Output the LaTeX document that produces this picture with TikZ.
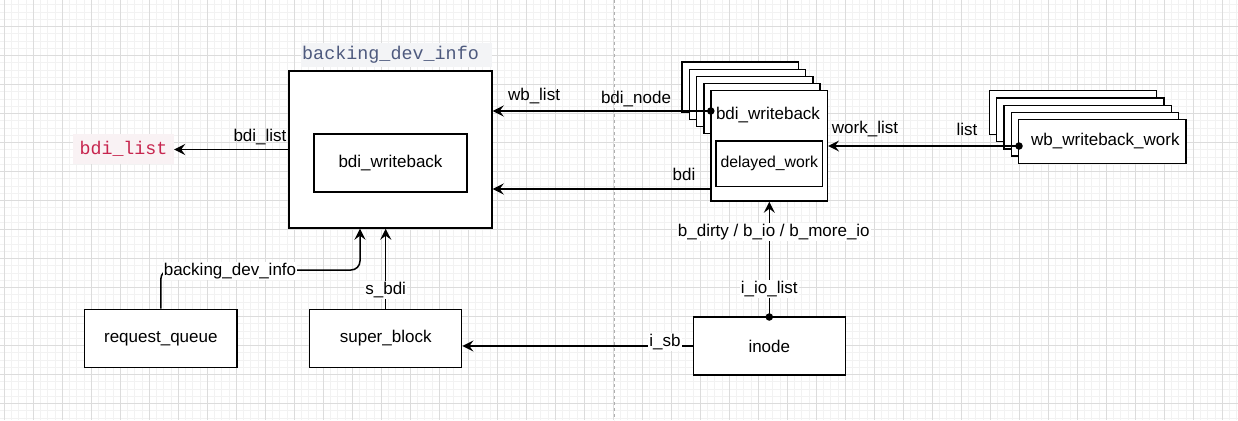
\documentclass[tikz,border=0pt]{standalone}
\usepackage{fontspec}
\setmainfont{Liberation Sans}
\setmonofont{Liberation Mono}
\usetikzlibrary{arrows.meta,calc}
\definecolor{minorg}{HTML}{F2F2F2}
\definecolor{majorg}{HTML}{DCDCDC}
\definecolor{sepg}{HTML}{AFAFAF}
\definecolor{titlebg}{HTML}{F3F4F6}
\definecolor{titlefg}{HTML}{4E5A7E}
\definecolor{codebg}{HTML}{F9F2F4}
\definecolor{codefg}{HTML}{C7254E}
\begin{document}
\begin{tikzpicture}[x=1pt,y=-1pt,
  box/.style={draw=black, line width=1.4pt, fill=white, inner sep=0pt, font=\fontsize{17}{20}\selectfont},
  arr/.style={line width=1.5pt, -{Stealth[length=11pt,width=11pt,inset=4pt]}},
  lbl/.style={font=\fontsize{17}{20}\selectfont, inner sep=1pt},
  wlbl/.style={lbl, fill=white},
  dot/.style={circle, fill=black, inner sep=0pt, minimum size=7.5pt}]
\useasboundingbox (0,0) rectangle (1238,420);
\fill[white] (0,0) rectangle (1238,420);
% grid
\foreach \i in {0,...,170} \draw[minorg, line width=0.8pt] ({4.3+7.25*\i},0) -- ({4.3+7.25*\i},420);
\foreach \j in {1,...,58} \draw[minorg, line width=0.8pt] (0,{-2.5+7.25*\j}) -- (1238,{-2.5+7.25*\j});
\foreach \i in {0,...,42} \draw[majorg, line width=0.8pt] ({4.3+29*\i},0) -- ({4.3+29*\i},420);
\foreach \j in {1,...,14} \draw[majorg, line width=0.8pt] (0,{-2.5+29*\j}) -- (1238,{-2.5+29*\j});
% separator
\draw[sepg, line width=1pt, dash pattern=on 3pt off 3pt] (614,0) -- (614,420);

% backing_dev_info
\node[anchor=west, fill=titlebg, minimum height=24pt, text width=189pt, inner xsep=1pt, inner ysep=0pt,
      font=\ttfamily\fontsize{18.4}{20}\selectfont, text=titlefg, align=left] (title) at (301,55) {backing\_dev\_info};
\node[box, minimum width=203pt, minimum height=157pt] (bdi) at (390.5,149.5) {};
\node[box, minimum width=153pt, minimum height=58pt] (bdiwb) at (390.5,163) {bdi\_writeback};
\node[fill=codebg, minimum width=101pt, minimum height=30pt, inner sep=0pt,
      font=\ttfamily\fontsize{18.3}{20}\selectfont, text=codefg] (bdilist) at (123.5,149) {bdi\_list};

% bdi_writeback stack
\foreach \k in {0,1,2,3}
  \node[box, minimum width=116.3pt, minimum height=50pt] (bwback\k) at ({740.2+7.25*\k},{87+7.25*\k}) {};
\node[box, minimum width=116.3pt, minimum height=110.3pt] (bw) at (769.2,145.9) {};
\node[lbl] (bwtext) at (768,115.5) {bdi\_writeback};
\node[box, minimum width=106.7pt, minimum height=45.7pt, font=\fontsize{15.8}{18}\selectfont] (dw) at (769.35,163.85) {delayed\_work};

% wb_writeback_work stack
\foreach \k in {4,3,2,1}
  \node[box, minimum width=167.3pt, minimum height=43.6pt] (wbwback\k) at ({1102.35-7.33*\k},{141.5-7.25*\k}) {};
\node[box, minimum width=167.3pt, minimum height=43.6pt] (wbw) at (1102.35,141.5) {\hspace*{6pt}wb\_writeback\_work};

% bottom boxes
\node[box, minimum width=152.3pt, minimum height=58pt] (rq) at (160.85,338.3) {request\_queue};
\node[box, minimum width=152pt, minimum height=58pt] (sb) at (385.7,338.3) {super\_block};
\node[box, minimum width=152pt, minimum height=58pt] (inode) at (769.3,346) {inode};

% coordinates and dots
\node[dot] (wbdot) at (710.8,111) {};
\node[dot] (wldot) at (1019,146) {};
\node[dot] (iodot) at (769.3,317) {};
\coordinate (rqbend) at (360,270);

% connectors
\draw[arr] (bdi.west) -- (bdi.west -| bdilist.east);
\draw[arr] (wbdot.center) -- (wbdot.center -| bdi.east);
\draw[arr] (bw.west |- 0,189) -- (bdi.east |- 0,189);
\draw[arr] (wldot.center) -- (wldot.center -| bw.east);
\draw[arr, rounded corners=9pt] (rq.north) |- (rqbend) -- (rqbend |- bdi.south);
\draw[arr] (sb.north) -- (sb.north |- bdi.south);
\draw[arr] (inode.west |- 0,346) -- (sb.east |- 0,346);
\draw[arr] (iodot.center) -- (iodot.center |- bw.south);

% labels
\node[lbl] (lbdilist) at (260,137.5) {bdi\_list};
\node[lbl] (lwblist) at (534,96) {wb\_list};
\node[lbl] (lbdinode) at (636,99) {bdi\_node};
\node[lbl] (lbdi) at (684,174) {bdi};
\node[lbl] (lworklist) at (865,129) {work\_list};
\node[lbl] (llist) at (967,129) {list};
\node[wlbl] (lbdinfo) at (230,271) {backing\_dev\_info};
\node[wlbl] (lsbdi) at (385.7,290) {s\_bdi};
\node[wlbl] (lbdirty) at (773.8,231.7) {b\_dirty / b\_io / b\_more\_io};
\node[wlbl] (liolist) at (769.3,289.3) {i\_io\_list};
\node[wlbl] (lisb) at (665,342) {i\_sb};
\end{tikzpicture}
\end{document}
